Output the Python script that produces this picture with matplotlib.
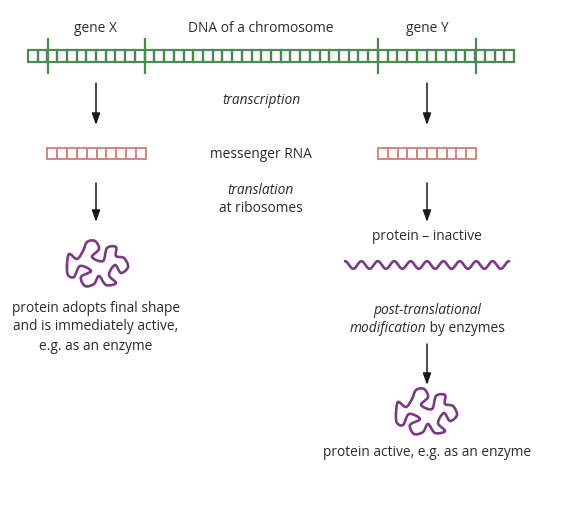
import numpy as np
import matplotlib
matplotlib.use("Agg")
import matplotlib.pyplot as plt
from matplotlib.path import Path
from matplotlib.patches import PathPatch, Rectangle

plt.rcParams['font.family'] = ['Open Sans', 'DejaVu Sans']

GREEN = "#4b8a57"
SALMON = "#d4877e"
PURPLE = "#7b3a83"
TXT = "#2b2b2b"

# DNA strand: cells and gene boundaries (pixel coords of the picture)
dna_x0, dna_x1 = 28, 514
dna_cells = 50
gene_x = [(48, 145), (378, 476)]
gene_labels = ["gene X", "gene Y"]
gene_centres = [96, 427]

# mRNA strands
mrna_cells = 10

# tangled protein outline (offsets from blob centre, px)
blob_pts = [(-29, 2), (-27, -10), (-19, -5), (-13, -13), (-9, -22), (-1, -23),
            (3, -15), (-4, -7), (7, -3), (11, -16), (20, -17), (20, -8),
            (28, -6), (32, 3), (25, 9), (19, 1), (13, 11), (20, 19),
            (10, 21), (3, 12), (-2, 20), (-11, 22), (-15, 13), (-5, 7),
            (-16, 2), (-22, 13), (-28, 11)]


def smooth_closed(pts):
    p = np.array(pts, float)
    n = len(p)
    verts = [p[0]]
    codes = [Path.MOVETO]
    for i in range(n):
        p0, p1, p2, p3 = p[i - 1], p[i], p[(i + 1) % n], p[(i + 2) % n]
        c1 = p1 + (p2 - p0) / 6
        c2 = p2 - (p3 - p1) / 6
        verts += [c1, c2, p2]
        codes += [Path.CURVE4] * 3
    return verts, codes


def draw_blob(ax, cx, cy):
    verts, codes = smooth_closed(blob_pts)
    verts = [(v[0] + cx, v[1] + cy) for v in verts]
    ax.add_patch(PathPatch(Path(verts, codes), fill=False, ec=PURPLE, lw=1.9,
                           capstyle="round", joinstyle="round"))


def strand(ax, x0, x1, y0, y1, n, color, lw):
    w = (x1 - x0) / n
    for i in range(n):
        ax.add_patch(Rectangle((x0 + i * w, y0), w, y1 - y0, fill=False,
                               ec=color, lw=lw))


def arrow(ax, x, y0, y1):
    ax.annotate("", xy=(x, y1), xytext=(x, y0),
                arrowprops=dict(arrowstyle="-|>,head_length=0.7,head_width=0.25",
                                color="#1a1a1a", lw=1.1, shrinkA=0, shrinkB=0))


fig = plt.figure(figsize=(5.86, 5.18), dpi=100)
ax = fig.add_axes([0, 0, 1, 1])
ax.set_xlim(0, 586)
ax.set_ylim(518, 0)
ax.axis("off")

fs = 9.9
# DNA
strand(ax, dna_x0, dna_x1, 49.5, 62, dna_cells, GREEN, 1.6)
for gx in gene_x:
    for x in gx:
        ax.plot([x, x], [39, 73], color=GREEN, lw=1.6)
for lab, cx in zip(gene_labels, gene_centres):
    ax.text(cx, 28, lab, ha="center", va="center", fontsize=fs, color=TXT)
ax.text(261, 28, "DNA of a chromosome", ha="center", va="center", fontsize=fs, color=TXT)

# transcription
for cx in gene_centres:
    arrow(ax, cx, 83, 125)
ax.text(261, 101, "transcription", ha="center", va="center", fontsize=fs,
        style="italic", color=TXT)

# mRNA
strand(ax, 47, 146, 147.5, 158.5, mrna_cells, SALMON, 1.4)
strand(ax, 378, 476, 147.5, 158.5, mrna_cells, SALMON, 1.4)
ax.text(261, 154, "messenger RNA", ha="center", va="center", fontsize=fs, color=TXT)

# translation
for cx in gene_centres:
    arrow(ax, cx, 183, 222)
ax.text(261, 190, "translation", ha="center", va="center", fontsize=fs,
        style="italic", color=TXT)
ax.text(261, 208, "at ribosomes", ha="center", va="center", fontsize=fs, color=TXT)

# left: folded protein
draw_blob(ax, 96, 264)
for i, line in enumerate(["protein adopts final shape",
                          "and is immediately active,",
                          "e.g. as an enzyme"]):
    ax.text(96, 308 + i * 19, line, ha="center", va="center", fontsize=fs, color=TXT)

# right: inactive chain
ax.text(427, 237, "protein \u2013 inactive", ha="center", va="center", fontsize=fs, color=TXT)
wx = np.linspace(345, 509, 400)
ax.plot(wx, 265 + 3.8 * np.sin((wx - 345) / (509 - 345) * 10 * 2 * np.pi - np.pi / 2),
        color=PURPLE, lw=1.9, solid_capstyle="round")
ax.text(427, 310, "post-translational", ha="center", va="center", fontsize=fs,
        style="italic", color=TXT)

# mixed italic / upright line, centred on 427
fig.canvas.draw()
rend = fig.canvas.get_renderer()
inv = ax.transData.inverted()
ta = ax.text(0, 329, "modification", ha="left", va="center", fontsize=fs,
             style="italic", color=TXT)
tb = ax.text(0, 329, " by enzymes", ha="left", va="center", fontsize=fs, color=TXT)
ea = ta.get_window_extent(rend).transformed(inv)
eb = tb.get_window_extent(rend).transformed(inv)
wa, wb = ea.x1 - ea.x0, eb.x1 - eb.x0
x_start = 427 - (wa + wb) / 2
ta.set_x(x_start)
tb.set_x(x_start + wa)

arrow(ax, 427, 344, 385)
draw_blob(ax, 425, 412)
ax.text(427, 452, "protein active, e.g. as an enzyme", ha="center", va="center",
        fontsize=fs, color=TXT)

fig.savefig("out.png", dpi=100, facecolor="white")
